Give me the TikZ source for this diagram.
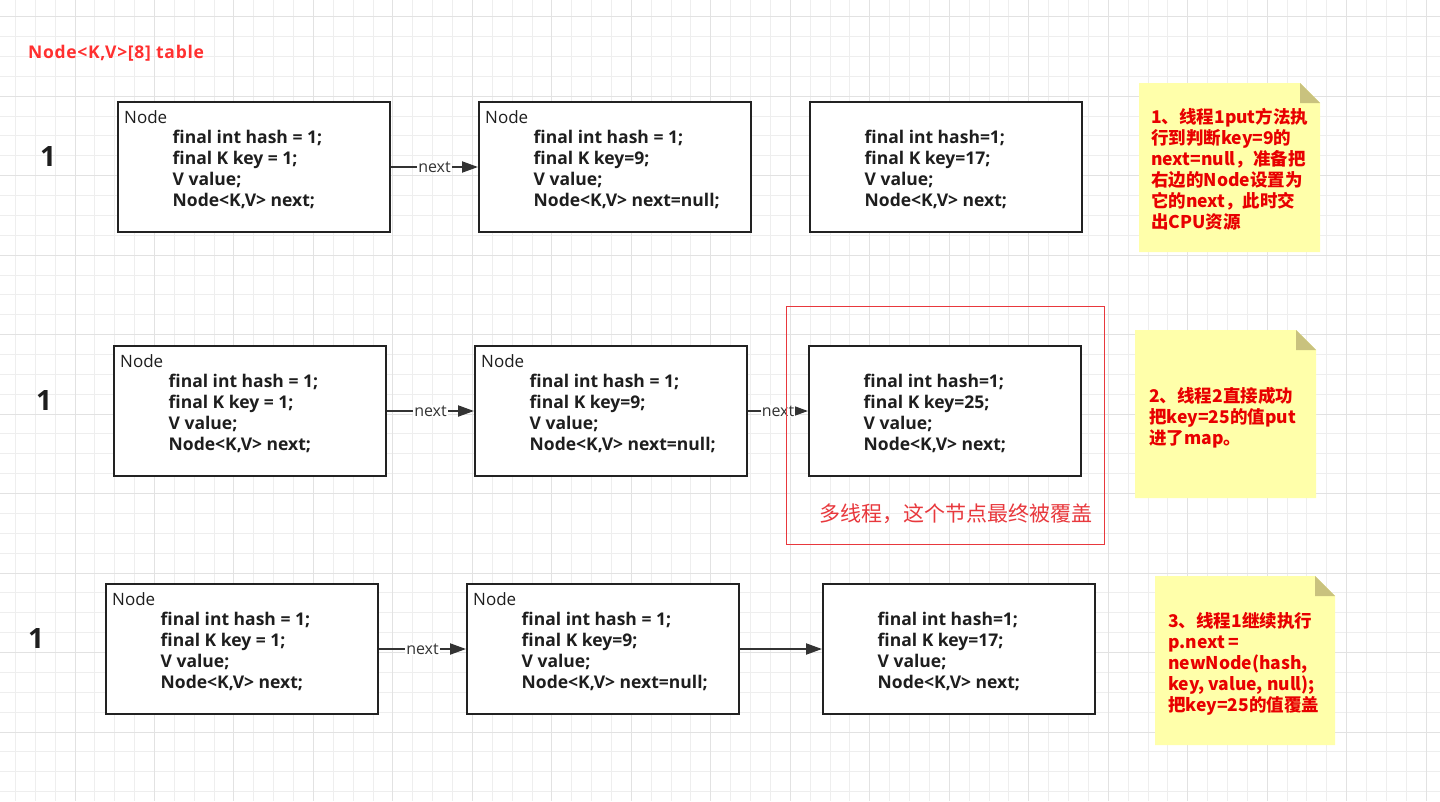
\documentclass[tikz,border=0pt]{standalone}
\usepackage{fontspec}
\setmainfont{Open Sans}
\newfontfamily\cjk{Noto Sans CJK SC}
\newfontfamily\titlefont[LetterSpace=4]{Open Sans}
\usetikzlibrary{arrows.meta}
\definecolor{gridminor}{HTML}{EEEEEE}
\definecolor{gridmajor}{HTML}{E2E2E2}
\definecolor{boxline}{HTML}{222222}
\definecolor{codetext}{HTML}{1E1E1E}
\definecolor{notefill}{HTML}{FFFFAA}
\definecolor{notefold}{HTML}{C9C27E}
\definecolor{notered}{HTML}{E80000}
\definecolor{titlered}{HTML}{FF3030}
\definecolor{annred}{HTML}{E8383D}
\definecolor{arrowc}{HTML}{333333}
\tikzset{
  nodebox/.style={draw=boxline, line width=2pt, fill=white, minimum width=272pt,
    minimum height=130pt, inner sep=0pt, anchor=north west},
  boxtitle/.style={anchor=base west, inner sep=0pt, text=codetext,
    font=\fontsize{17}{21}\selectfont},
  boxcode/.style={anchor=north west, inner sep=0pt, align=left, text=codetext,
    font=\fontsize{17.5}{21}\selectfont\bfseries},
  conn/.style={draw=arrowc, line width=2pt, -{Triangle[length=16pt,width=11pt]}},
  edgelabel/.style={fill=white, inner sep=1pt, text=arrowc,
    font=\fontsize{16}{18}\selectfont},
  rowlabel/.style={inner sep=0pt, text=codetext, font=\fontsize{28}{30}\selectfont\bfseries},
  notetext/.style={anchor=north west, inner sep=0pt, align=left, text=notered,
    font=\cjk\bfseries\fontsize{17.5}{21}\selectfont},
}
\newcommand\mkbox[5]{%
  \node[nodebox] (#1) at (#2,#3) {};
  \node[boxtitle] (#1t) at ([xshift=7pt,yshift=-22pt]#1.north west) {#4};
  \node[boxcode] (#1c) at ([xshift=55.5pt,yshift=-29pt]#1.north west) {#5};
}
\newcommand\mknote[4]{%
  \fill[notefill] (#1,#2) -- (#3-20,#2) -- (#3,#2+20) -- (#3,#4) -- (#1,#4) -- cycle;
  \fill[notefold] (#3-20,#2) -- (#3-20,#2+20) -- (#3,#2+20) -- cycle;
}
\begin{document}
\begin{tikzpicture}[x=1pt,y=-1pt]
\useasboundingbox (0,0) rectangle (1440,801);
\clip (0,0) rectangle (1440,801);
\fill[white] (0,0) rectangle (1440,801);
% grid
\foreach \i in {0,...,72} \draw[gridminor, line width=1pt] ({15.4+19.87*\i},0) -- ({15.4+19.87*\i},801);
\foreach \j in {0,...,40} \draw[gridminor, line width=1pt] (0,{16.7+19.87*\j}) -- (1440,{16.7+19.87*\j});
\foreach \i in {0,...,17} \draw[gridmajor, line width=1pt] ({75+79.48*\i},0) -- ({75+79.48*\i},801);
\foreach \j in {0,...,9} \draw[gridmajor, line width=1pt] (0,{16.7+79.48*\j}) -- (1440,{16.7+79.48*\j});

% title
\node[anchor=base west, inner sep=0pt, text=titlered, font=\titlefont\fontsize{17.5}{20}\selectfont\bfseries] (title) at (28,58) {Node<K,V>[8] table};

% row labels
\node[rowlabel] (r1) at (48,157) {1};
\node[rowlabel] (r2) at (44,400) {1};
\node[rowlabel] (r3) at (36,638) {1};

% row 1
\mkbox{b11}{117}{101}{Node}{final int hash = 1;\\final K key = 1;\\V value;\\Node<K,V> next;}
\mkbox{b12}{478}{101}{Node}{final int hash = 1;\\final K key=9;\\V value;\\Node<K,V> next=null;}
\mkbox{b13}{809}{101}{}{final int hash=1;\\final K key=17;\\V value;\\Node<K,V> next;}
% row 2
\mkbox{b21}{113}{345}{Node}{final int hash = 1;\\final K key = 1;\\V value;\\Node<K,V> next;}
\mkbox{b22}{474}{345}{Node}{final int hash = 1;\\final K key=9;\\V value;\\Node<K,V> next=null;}
\mkbox{b23}{808}{345}{}{final int hash=1;\\final K key=25;\\V value;\\Node<K,V> next;}
% row 3
\mkbox{b31}{105}{583}{Node}{final int hash = 1;\\final K key = 1;\\V value;\\Node<K,V> next;}
\mkbox{b32}{466}{583}{Node}{final int hash = 1;\\final K key=9;\\V value;\\Node<K,V> next=null;}
\mkbox{b33}{822}{583}{}{final int hash=1;\\final K key=17;\\V value;\\Node<K,V> next;}

% connectors
\draw[conn] (b11) -- node[edgelabel] (e1) {next} (b12);
\draw[conn] (b21) -- node[edgelabel] (e2) {next} (b22);
\draw[conn] (b22) -- node[edgelabel] (e3) {next} (b23);
\draw[conn] (b31) -- node[edgelabel] (e4) {next} (b32);
\draw[conn] (b32) -- (b33);

% red highlight
\node[draw=annred, line width=1pt, minimum width=318pt, minimum height=238pt,
  anchor=north west, inner sep=0pt, outer sep=0pt] (redbox) at (786.5,306.5) {};
\node[inner sep=0pt, text=annred, font=\cjk\fontsize{21}{24}\selectfont] (ann) at (956,514) {多线程，这个节点最终被覆盖};

% notes
\mknote{1139}{83}{1320}{252}
\node[notetext] (n1) at (1151,108) {1、线程1put方法执\\行到判断key=9的\\next=null，准备把\\右边的Node设置为\\它的next，此时交\\出CPU资源};
\mknote{1135}{330}{1316}{498}
\node[notetext] (n2) at (1149,387) {2、线程2直接成功\\把key=25的值put\\进了map。};
\mknote{1155}{576}{1335}{745}
\node[notetext] (n3) at (1168,612) {3、线程1继续执行\\p.next =\\newNode(hash,\\key, value, null);\\把key=25的值覆盖};
\end{tikzpicture}
\end{document}
